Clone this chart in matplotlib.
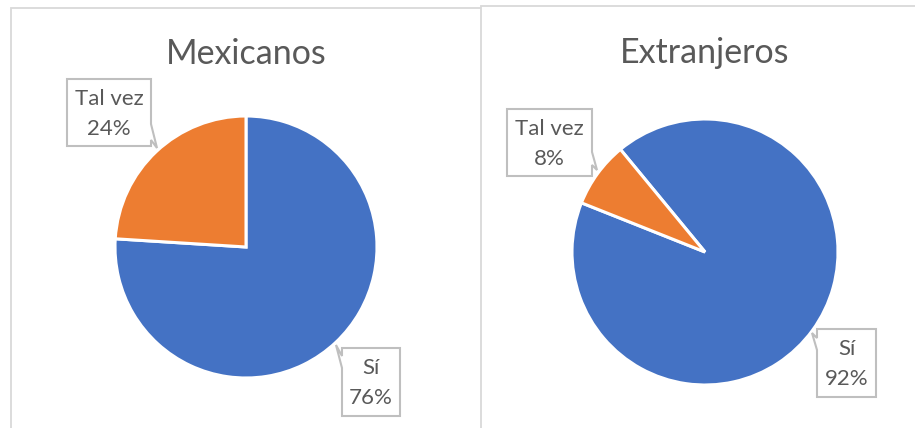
import matplotlib
matplotlib.use("Agg")
import matplotlib.pyplot as plt
from matplotlib.patches import Polygon, Rectangle

# ---- data ----
titles = ["Mexicanos", "Extranjeros"]
categories = ["Sí", "Tal vez"]
mex_values = [76, 24]
ext_values = [92, 8]
colors = ["#4472C4", "#ED7D31"]

W, H = 915, 428
fig = plt.figure(figsize=(W / 100, H / 100), dpi=100)
ax = fig.add_axes([0, 0, 1, 1])
ax.set_axis_off()

FONT = ["Lato", "DejaVu Sans"]
TXT = "#595959"
EDGE = "#BFBFBF"

def Y(y):
    return H - y

# panel borders (pixel coords of the image, y from top)
ax.add_patch(Rectangle((11, Y(440)), 520, 440 - 8, fill=True, facecolor="white",
                       edgecolor="#D9D9D9", lw=1.3, zorder=0))
ax.add_patch(Rectangle((481, Y(440)), 500, 440 - 6, fill=True, facecolor="white",
                       edgecolor="#D9D9D9", lw=1.3, zorder=0.5))

panels = [
    dict(values=mex_values, title=titles[0], center=(246, 247), r=131, start=90,
         title_xy=(246, 54),
         boxes=[
             dict(box=(342, 348, 400, 416), side="left", tail=[(342, 368), (336, 345), (342, 356)]),
             dict(box=(67, 79, 151, 146), side="right", tail=[(151, 124), (157, 148), (151, 140)]),
         ]),
    dict(values=ext_values, title=titles[1], center=(705, 252), r=133, start=129.5,
         title_xy=(705, 53),
         boxes=[
             dict(box=(817, 329, 876, 397), side="left", tail=[(817, 350), (812, 333), (817, 338)]),
             dict(box=(507, 109, 592, 176), side="right", tail=[(592, 152), (597, 170), (592, 165)]),
         ]),
]

for p in panels:
    cx, cy = p["center"]
    ax.pie(p["values"], colors=colors, startangle=p["start"], counterclock=False,
           center=(cx, Y(cy)), radius=p["r"],
           wedgeprops=dict(edgecolor="white", linewidth=2.2), frame=False)
    ax.text(p["title_xy"][0], Y(p["title_xy"][1]), p["title"], ha="center", va="center",
            fontsize=24.5, color=TXT, family=FONT)
    for cat, val, b in zip(categories, p["values"], p["boxes"]):
        x0, y0, x1, y1 = b["box"]
        t = b["tail"]
        if b["side"] == "left":
            pts = [(x0, y0), (x1, y0), (x1, y1), (x0, y1), t[0], t[1], t[2]]
        else:
            pts = [(x0, y0), (x1, y0), t[0], t[1], t[2], (x1, y1), (x0, y1)]
        poly = Polygon([(x, Y(y)) for x, y in pts], closed=True, facecolor="white",
                       edgecolor=EDGE, lw=1.5, zorder=5)
        ax.add_patch(poly)
        mx = (x0 + x1) / 2
        my = (y0 + y1) / 2
        ax.text(mx, Y(my - 14), cat, ha="center", va="center", fontsize=16,
                color=TXT, family=FONT, zorder=6)
        ax.text(mx, Y(my + 16), f"{val}%", ha="center", va="center", fontsize=16,
                color=TXT, family=FONT, zorder=6)

ax.set_xlim(0, W)
ax.set_ylim(0, H)
ax.set_aspect("auto")
fig.savefig("out.png", dpi=100, facecolor="white")
